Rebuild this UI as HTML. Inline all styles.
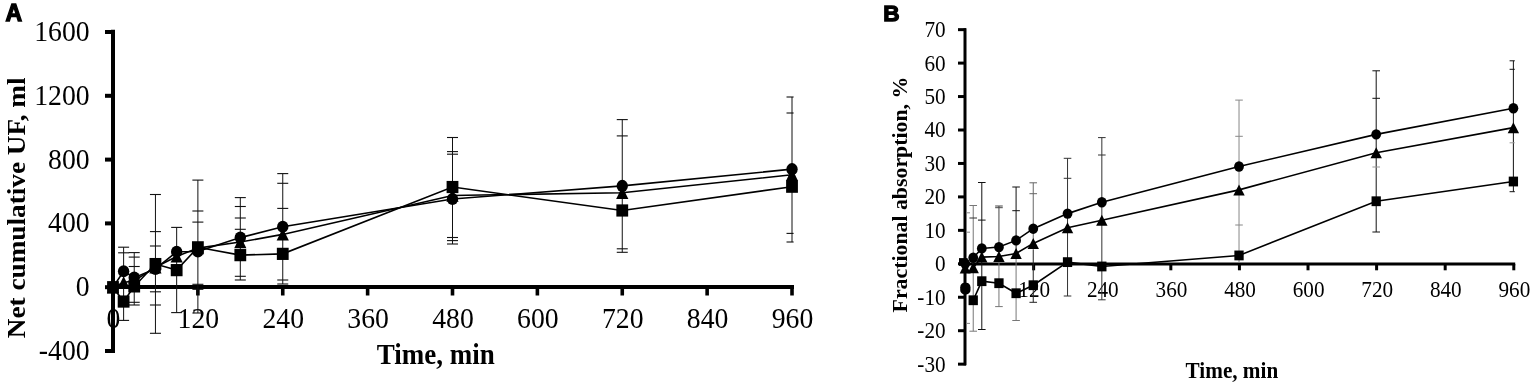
<!DOCTYPE html>
<html><head><meta charset="utf-8"><title>Figure</title>
<style>html,body{margin:0;padding:0;background:#fff;}body{width:1535px;height:387px;overflow:hidden;}svg{display:block;}</style>
</head><body>
<svg width="1535" height="387" viewBox="0 0 1535 387">
<rect width="1535" height="387" fill="#fff"/>
<text transform="translate(89.6,359.9) scale(1,1.06)" font-size="27.7" text-anchor="end" font-family='"Liberation Serif", "Times New Roman", serif'>-400</text>
<text transform="translate(89.6,296.1) scale(1,1.06)" font-size="27.7" text-anchor="end" font-family='"Liberation Serif", "Times New Roman", serif'>0</text>
<text transform="translate(89.6,232.3) scale(1,1.06)" font-size="27.7" text-anchor="end" font-family='"Liberation Serif", "Times New Roman", serif'>400</text>
<text transform="translate(89.6,168.5) scale(1,1.06)" font-size="27.7" text-anchor="end" font-family='"Liberation Serif", "Times New Roman", serif'>800</text>
<text transform="translate(89.6,104.7) scale(1,1.06)" font-size="27.7" text-anchor="end" font-family='"Liberation Serif", "Times New Roman", serif'>1200</text>
<text transform="translate(89.6,40.9) scale(1,1.06)" font-size="27.7" text-anchor="end" font-family='"Liberation Serif", "Times New Roman", serif'>1600</text>
<text transform="translate(113.5,328) scale(1,1.06)" font-size="27.7" text-anchor="middle" font-family='"Liberation Serif", "Times New Roman", serif'>0</text>
<text transform="translate(198.38,328) scale(1,1.06)" font-size="27.7" text-anchor="middle" font-family='"Liberation Serif", "Times New Roman", serif'>120</text>
<text transform="translate(283.25,328) scale(1,1.06)" font-size="27.7" text-anchor="middle" font-family='"Liberation Serif", "Times New Roman", serif'>240</text>
<text transform="translate(368.13,328) scale(1,1.06)" font-size="27.7" text-anchor="middle" font-family='"Liberation Serif", "Times New Roman", serif'>360</text>
<text transform="translate(453,328) scale(1,1.06)" font-size="27.7" text-anchor="middle" font-family='"Liberation Serif", "Times New Roman", serif'>480</text>
<text transform="translate(537.88,328) scale(1,1.06)" font-size="27.7" text-anchor="middle" font-family='"Liberation Serif", "Times New Roman", serif'>600</text>
<text transform="translate(622.76,328) scale(1,1.06)" font-size="27.7" text-anchor="middle" font-family='"Liberation Serif", "Times New Roman", serif'>720</text>
<text transform="translate(707.63,328) scale(1,1.06)" font-size="27.7" text-anchor="middle" font-family='"Liberation Serif", "Times New Roman", serif'>840</text>
<text transform="translate(792.51,328) scale(1,1.06)" font-size="27.7" text-anchor="middle" font-family='"Liberation Serif", "Times New Roman", serif'>960</text>
<text transform="translate(376.8,364.2) scale(1,1.06)" font-size="27" text-anchor="start" font-weight="bold" font-family='"Liberation Serif", "Times New Roman", serif'>Time, min</text>
<text transform="translate(24.5,338.2) scale(1,1.04) rotate(-90)" font-size="26.2" text-anchor="start" font-weight="bold" font-family='"Liberation Serif", "Times New Roman", serif'>Net cumulative UF, ml</text>
<text transform="translate(5.5,21.2) scale(1,1.01)" font-size="23" text-anchor="start" font-weight="bold" font-family='"Liberation Sans", Arial, sans-serif' stroke="#000" stroke-width="1.3">A</text>
<line x1="113" y1="29.7" x2="113" y2="353" stroke="#000" stroke-width="4"/>
<line x1="105" y1="351" x2="115" y2="351" stroke="#000" stroke-width="4"/>
<line x1="105" y1="287.2" x2="115" y2="287.2" stroke="#000" stroke-width="4"/>
<line x1="105" y1="223.4" x2="115" y2="223.4" stroke="#000" stroke-width="4"/>
<line x1="105" y1="159.6" x2="115" y2="159.6" stroke="#000" stroke-width="4"/>
<line x1="105" y1="95.8" x2="115" y2="95.8" stroke="#000" stroke-width="4"/>
<line x1="105" y1="32" x2="115" y2="32" stroke="#000" stroke-width="4"/>
<line x1="111" y1="287" x2="794" y2="287" stroke="#000" stroke-width="4"/>
<line x1="197.88" y1="287" x2="197.88" y2="295.5" stroke="#000" stroke-width="3.6"/>
<line x1="282.75" y1="287" x2="282.75" y2="295.5" stroke="#000" stroke-width="3.6"/>
<line x1="367.63" y1="287" x2="367.63" y2="295.5" stroke="#000" stroke-width="3.6"/>
<line x1="452.5" y1="287" x2="452.5" y2="295.5" stroke="#000" stroke-width="3.6"/>
<line x1="537.38" y1="287" x2="537.38" y2="295.5" stroke="#000" stroke-width="3.6"/>
<line x1="622.26" y1="287" x2="622.26" y2="295.5" stroke="#000" stroke-width="3.6"/>
<line x1="707.13" y1="287" x2="707.13" y2="295.5" stroke="#000" stroke-width="3.6"/>
<line x1="792.01" y1="287" x2="792.01" y2="295.5" stroke="#000" stroke-width="3.6"/>
<line x1="123.61" y1="247.2" x2="123.61" y2="320.4" stroke="#111" stroke-width="1"/>
<line x1="118.11" y1="247.2" x2="129.11" y2="247.2" stroke="#111" stroke-width="1.1"/>
<line x1="118.11" y1="252.8" x2="129.11" y2="252.8" stroke="#111" stroke-width="1.1"/>
<line x1="118.11" y1="320.4" x2="129.11" y2="320.4" stroke="#111" stroke-width="1.1"/>
<line x1="134.22" y1="252.6" x2="134.22" y2="305" stroke="#111" stroke-width="1"/>
<line x1="128.72" y1="252.6" x2="139.72" y2="252.6" stroke="#111" stroke-width="1.1"/>
<line x1="128.72" y1="257.1" x2="139.72" y2="257.1" stroke="#111" stroke-width="1.1"/>
<line x1="128.72" y1="266.5" x2="139.72" y2="266.5" stroke="#111" stroke-width="1.1"/>
<line x1="128.72" y1="302.3" x2="139.72" y2="302.3" stroke="#111" stroke-width="1.1"/>
<line x1="128.72" y1="305" x2="139.72" y2="305" stroke="#111" stroke-width="1.1"/>
<line x1="155.44" y1="194.5" x2="155.44" y2="333.3" stroke="#111" stroke-width="1"/>
<line x1="149.94" y1="194.5" x2="160.94" y2="194.5" stroke="#111" stroke-width="1.1"/>
<line x1="149.94" y1="231.6" x2="160.94" y2="231.6" stroke="#111" stroke-width="1.1"/>
<line x1="149.94" y1="246" x2="160.94" y2="246" stroke="#111" stroke-width="1.1"/>
<line x1="149.94" y1="291.8" x2="160.94" y2="291.8" stroke="#111" stroke-width="1.1"/>
<line x1="149.94" y1="305" x2="160.94" y2="305" stroke="#111" stroke-width="1.1"/>
<line x1="149.94" y1="333.3" x2="160.94" y2="333.3" stroke="#111" stroke-width="1.1"/>
<line x1="176.66" y1="227.4" x2="176.66" y2="312.6" stroke="#111" stroke-width="1"/>
<line x1="171.16" y1="227.4" x2="182.16" y2="227.4" stroke="#111" stroke-width="1.1"/>
<line x1="171.16" y1="312.6" x2="182.16" y2="312.6" stroke="#111" stroke-width="1.1"/>
<line x1="197.88" y1="180.1" x2="197.88" y2="313" stroke="#111" stroke-width="1"/>
<line x1="192.38" y1="180.1" x2="203.38" y2="180.1" stroke="#111" stroke-width="1.1"/>
<line x1="192.38" y1="211" x2="203.38" y2="211" stroke="#111" stroke-width="1.1"/>
<line x1="192.38" y1="222.1" x2="203.38" y2="222.1" stroke="#111" stroke-width="1.1"/>
<line x1="192.38" y1="284.3" x2="203.38" y2="284.3" stroke="#111" stroke-width="1.1"/>
<line x1="192.38" y1="289.3" x2="203.38" y2="289.3" stroke="#111" stroke-width="1.1"/>
<line x1="192.38" y1="313" x2="203.38" y2="313" stroke="#111" stroke-width="1.1"/>
<line x1="240.31" y1="197.6" x2="240.31" y2="280" stroke="#111" stroke-width="1"/>
<line x1="234.81" y1="197.6" x2="245.81" y2="197.6" stroke="#111" stroke-width="1.1"/>
<line x1="234.81" y1="206.5" x2="245.81" y2="206.5" stroke="#111" stroke-width="1.1"/>
<line x1="234.81" y1="218" x2="245.81" y2="218" stroke="#111" stroke-width="1.1"/>
<line x1="234.81" y1="229.3" x2="245.81" y2="229.3" stroke="#111" stroke-width="1.1"/>
<line x1="234.81" y1="276.3" x2="245.81" y2="276.3" stroke="#111" stroke-width="1.1"/>
<line x1="234.81" y1="280" x2="245.81" y2="280" stroke="#111" stroke-width="1.1"/>
<line x1="282.75" y1="173.6" x2="282.75" y2="284" stroke="#111" stroke-width="1"/>
<line x1="277.25" y1="173.6" x2="288.25" y2="173.6" stroke="#111" stroke-width="1.1"/>
<line x1="277.25" y1="183.3" x2="288.25" y2="183.3" stroke="#111" stroke-width="1.1"/>
<line x1="277.25" y1="208.4" x2="288.25" y2="208.4" stroke="#111" stroke-width="1.1"/>
<line x1="277.25" y1="280" x2="288.25" y2="280" stroke="#111" stroke-width="1.1"/>
<line x1="277.25" y1="284" x2="288.25" y2="284" stroke="#111" stroke-width="1.1"/>
<line x1="452.5" y1="137.5" x2="452.5" y2="244" stroke="#111" stroke-width="1"/>
<line x1="447" y1="137.5" x2="458" y2="137.5" stroke="#111" stroke-width="1.1"/>
<line x1="447" y1="151.6" x2="458" y2="151.6" stroke="#111" stroke-width="1.1"/>
<line x1="447" y1="154.2" x2="458" y2="154.2" stroke="#111" stroke-width="1.1"/>
<line x1="447" y1="237.5" x2="458" y2="237.5" stroke="#111" stroke-width="1.1"/>
<line x1="447" y1="240.6" x2="458" y2="240.6" stroke="#111" stroke-width="1.1"/>
<line x1="447" y1="244" x2="458" y2="244" stroke="#111" stroke-width="1.1"/>
<line x1="622.26" y1="119.6" x2="622.26" y2="252.3" stroke="#111" stroke-width="1"/>
<line x1="616.76" y1="119.6" x2="627.76" y2="119.6" stroke="#111" stroke-width="1.1"/>
<line x1="616.76" y1="135.9" x2="627.76" y2="135.9" stroke="#111" stroke-width="1.1"/>
<line x1="616.76" y1="248.8" x2="627.76" y2="248.8" stroke="#111" stroke-width="1.1"/>
<line x1="616.76" y1="252.3" x2="627.76" y2="252.3" stroke="#111" stroke-width="1.1"/>
<line x1="792.01" y1="97" x2="792.01" y2="242" stroke="#111" stroke-width="1"/>
<line x1="786.51" y1="97" x2="793.6" y2="97" stroke="#111" stroke-width="1.1"/>
<line x1="786.51" y1="113" x2="793.6" y2="113" stroke="#111" stroke-width="1.1"/>
<line x1="786.51" y1="233.4" x2="793.6" y2="233.4" stroke="#111" stroke-width="1.1"/>
<line x1="786.51" y1="242" x2="793.6" y2="242" stroke="#111" stroke-width="1.1"/>
<polyline points="113,287.2 123.61,271.25 134.22,277.63 155.44,268.86 176.66,251.79 197.88,251.47 240.31,237.6 282.75,226.75 452.5,199 622.26,185.92 792.01,169.17" fill="none" stroke="#000" stroke-width="1.6"/>
<polyline points="113,287.2 123.61,282.41 134.22,280.82 155.44,267.26 176.66,256.42 197.88,248.12 240.31,242.06 282.75,234.41 452.5,195.49 622.26,192.78 792.01,174.75" fill="none" stroke="#000" stroke-width="1.6"/>
<polyline points="113,287.2 123.61,301.56 134.22,286.4 155.44,264.07 176.66,270.13 197.88,247.32 240.31,255.14 282.75,253.86 452.5,187.03 622.26,210.48 792.01,186.71" fill="none" stroke="#000" stroke-width="1.6"/>
<polygon points="113,281 106.9,293.4 119.1,293.4"/>
<polygon points="123.61,276.21 117.51,288.61 129.71,288.61"/>
<polygon points="134.22,274.62 128.12,287.02 140.32,287.02"/>
<polygon points="155.44,261.06 149.34,273.46 161.54,273.46"/>
<polygon points="176.66,250.22 170.56,262.62 182.76,262.62"/>
<polygon points="197.88,241.92 191.78,254.32 203.98,254.32"/>
<polygon points="240.31,235.86 234.21,248.26 246.41,248.26"/>
<polygon points="282.75,228.21 276.65,240.61 288.85,240.61"/>
<polygon points="452.5,189.29 446.4,201.69 458.6,201.69"/>
<polygon points="622.26,186.58 616.16,198.98 628.36,198.98"/>
<polygon points="792.01,168.55 785.91,180.95 798.11,180.95"/>
<ellipse cx="113" cy="287.2" rx="5.7" ry="6.05"/>
<ellipse cx="123.61" cy="271.25" rx="5.7" ry="6.05"/>
<ellipse cx="134.22" cy="277.63" rx="5.7" ry="6.05"/>
<ellipse cx="155.44" cy="268.86" rx="5.7" ry="6.05"/>
<ellipse cx="176.66" cy="251.79" rx="5.7" ry="6.05"/>
<ellipse cx="197.88" cy="251.47" rx="5.7" ry="6.05"/>
<ellipse cx="240.31" cy="237.6" rx="5.7" ry="6.05"/>
<ellipse cx="282.75" cy="226.75" rx="5.7" ry="6.05"/>
<ellipse cx="452.5" cy="199" rx="5.7" ry="6.05"/>
<ellipse cx="622.26" cy="185.92" rx="5.7" ry="6.05"/>
<ellipse cx="792.01" cy="169.17" rx="5.7" ry="6.05"/>
<rect x="107.1" y="281.1" width="11.8" height="12.2"/>
<rect x="117.71" y="295.45" width="11.8" height="12.2"/>
<rect x="128.32" y="280.3" width="11.8" height="12.2"/>
<rect x="149.54" y="257.97" width="11.8" height="12.2"/>
<rect x="170.76" y="264.03" width="11.8" height="12.2"/>
<rect x="191.98" y="241.22" width="11.8" height="12.2"/>
<rect x="234.41" y="249.04" width="11.8" height="12.2"/>
<rect x="276.85" y="247.76" width="11.8" height="12.2"/>
<rect x="446.6" y="180.93" width="11.8" height="12.2"/>
<rect x="616.36" y="204.38" width="11.8" height="12.2"/>
<rect x="786.11" y="180.61" width="11.8" height="12.2"/>
<text transform="translate(945.6,371.55) scale(1,1.06)" font-size="21.2" text-anchor="end" font-family='"Liberation Serif", "Times New Roman", serif'>-30</text>
<text transform="translate(945.6,338.1) scale(1,1.06)" font-size="21.2" text-anchor="end" font-family='"Liberation Serif", "Times New Roman", serif'>-20</text>
<text transform="translate(945.6,304.65) scale(1,1.06)" font-size="21.2" text-anchor="end" font-family='"Liberation Serif", "Times New Roman", serif'>-10</text>
<text transform="translate(945.6,271.2) scale(1,1.06)" font-size="21.2" text-anchor="end" font-family='"Liberation Serif", "Times New Roman", serif'>0</text>
<text transform="translate(945.6,237.75) scale(1,1.06)" font-size="21.2" text-anchor="end" font-family='"Liberation Serif", "Times New Roman", serif'>10</text>
<text transform="translate(945.6,204.3) scale(1,1.06)" font-size="21.2" text-anchor="end" font-family='"Liberation Serif", "Times New Roman", serif'>20</text>
<text transform="translate(945.6,170.85) scale(1,1.06)" font-size="21.2" text-anchor="end" font-family='"Liberation Serif", "Times New Roman", serif'>30</text>
<text transform="translate(945.6,137.4) scale(1,1.06)" font-size="21.2" text-anchor="end" font-family='"Liberation Serif", "Times New Roman", serif'>40</text>
<text transform="translate(945.6,103.95) scale(1,1.06)" font-size="21.2" text-anchor="end" font-family='"Liberation Serif", "Times New Roman", serif'>50</text>
<text transform="translate(945.6,70.5) scale(1,1.06)" font-size="21.2" text-anchor="end" font-family='"Liberation Serif", "Times New Roman", serif'>60</text>
<text transform="translate(945.6,37.05) scale(1,1.06)" font-size="21.2" text-anchor="end" font-family='"Liberation Serif", "Times New Roman", serif'>70</text>
<text transform="translate(1034.24,296.5) scale(1,1.06)" font-size="21.2" text-anchor="middle" font-family='"Liberation Serif", "Times New Roman", serif'>120</text>
<text transform="translate(1102.83,296.5) scale(1,1.06)" font-size="21.2" text-anchor="middle" font-family='"Liberation Serif", "Times New Roman", serif'>240</text>
<text transform="translate(1171.43,296.5) scale(1,1.06)" font-size="21.2" text-anchor="middle" font-family='"Liberation Serif", "Times New Roman", serif'>360</text>
<text transform="translate(1240.02,296.5) scale(1,1.06)" font-size="21.2" text-anchor="middle" font-family='"Liberation Serif", "Times New Roman", serif'>480</text>
<text transform="translate(1308.61,296.5) scale(1,1.06)" font-size="21.2" text-anchor="middle" font-family='"Liberation Serif", "Times New Roman", serif'>600</text>
<text transform="translate(1377.2,296.5) scale(1,1.06)" font-size="21.2" text-anchor="middle" font-family='"Liberation Serif", "Times New Roman", serif'>720</text>
<text transform="translate(1445.79,296.5) scale(1,1.06)" font-size="21.2" text-anchor="middle" font-family='"Liberation Serif", "Times New Roman", serif'>840</text>
<text transform="translate(1514.39,296.5) scale(1,1.06)" font-size="21.2" text-anchor="middle" font-family='"Liberation Serif", "Times New Roman", serif'>960</text>
<text transform="translate(1185.6,378.2) scale(1,1.06)" font-size="21.2" text-anchor="start" font-weight="bold" font-family='"Liberation Serif", "Times New Roman", serif'>Time, min</text>
<text transform="translate(906.7,312.4) scale(1,1.07) rotate(-90)" font-size="20.4" text-anchor="start" font-weight="bold" font-family='"Liberation Serif", "Times New Roman", serif'>Fractional absorption, %</text>
<text transform="translate(883.2,21.2) scale(1,1)" font-size="22.6" text-anchor="start" font-weight="bold" font-family='"Liberation Sans", Arial, sans-serif' stroke="#000" stroke-width="1.3">B</text>
<line x1="965" y1="28.3" x2="965" y2="365.2" stroke="#000" stroke-width="3"/>
<line x1="958" y1="364.15" x2="966" y2="364.15" stroke="#000" stroke-width="3"/>
<line x1="958" y1="330.7" x2="966" y2="330.7" stroke="#000" stroke-width="3"/>
<line x1="958" y1="297.25" x2="966" y2="297.25" stroke="#000" stroke-width="3"/>
<line x1="958" y1="263.8" x2="966" y2="263.8" stroke="#000" stroke-width="3"/>
<line x1="958" y1="230.35" x2="966" y2="230.35" stroke="#000" stroke-width="3"/>
<line x1="958" y1="196.9" x2="966" y2="196.9" stroke="#000" stroke-width="3"/>
<line x1="958" y1="163.45" x2="966" y2="163.45" stroke="#000" stroke-width="3"/>
<line x1="958" y1="130" x2="966" y2="130" stroke="#000" stroke-width="3"/>
<line x1="958" y1="96.55" x2="966" y2="96.55" stroke="#000" stroke-width="3"/>
<line x1="958" y1="63.1" x2="966" y2="63.1" stroke="#000" stroke-width="3"/>
<line x1="958" y1="29.65" x2="966" y2="29.65" stroke="#000" stroke-width="3"/>
<line x1="963.5" y1="264" x2="1515.2" y2="264" stroke="#000" stroke-width="3"/>
<line x1="1033.64" y1="264" x2="1033.64" y2="270.3" stroke="#000" stroke-width="3"/>
<line x1="1102.23" y1="264" x2="1102.23" y2="270.3" stroke="#000" stroke-width="3"/>
<line x1="1170.83" y1="264" x2="1170.83" y2="270.3" stroke="#000" stroke-width="3"/>
<line x1="1239.42" y1="264" x2="1239.42" y2="270.3" stroke="#000" stroke-width="3"/>
<line x1="1308.01" y1="264" x2="1308.01" y2="270.3" stroke="#000" stroke-width="3"/>
<line x1="1376.6" y1="264" x2="1376.6" y2="270.3" stroke="#000" stroke-width="3"/>
<line x1="1445.19" y1="264" x2="1445.19" y2="270.3" stroke="#000" stroke-width="3"/>
<line x1="1513.79" y1="264" x2="1513.79" y2="270.3" stroke="#000" stroke-width="3"/>
<line x1="973.22" y1="205.3" x2="973.22" y2="331.2" stroke="#777" stroke-width="1"/>
<line x1="969.42" y1="205.5" x2="977.02" y2="205.5" stroke="#777" stroke-width="1"/>
<line x1="969.42" y1="331.2" x2="977.02" y2="331.2" stroke="#777" stroke-width="1"/>
<line x1="969.42" y1="218" x2="977.02" y2="218" stroke="#333" stroke-width="1"/>
<line x1="981.8" y1="182.5" x2="981.8" y2="329.5" stroke="#111" stroke-width="1"/>
<line x1="978" y1="182.5" x2="985.6" y2="182.5" stroke="#111" stroke-width="1"/>
<line x1="978" y1="220.1" x2="985.6" y2="220.1" stroke="#111" stroke-width="1"/>
<line x1="978" y1="329.5" x2="985.6" y2="329.5" stroke="#111" stroke-width="1"/>
<line x1="998.95" y1="206" x2="998.95" y2="255" stroke="#444" stroke-width="1"/>
<line x1="995.15" y1="206" x2="1002.75" y2="206" stroke="#444" stroke-width="1"/>
<line x1="995.15" y1="207.7" x2="1002.75" y2="207.7" stroke="#444" stroke-width="1"/>
<line x1="998.95" y1="255" x2="998.95" y2="306.6" stroke="#777" stroke-width="1"/>
<line x1="995.15" y1="306.6" x2="1002.75" y2="306.6" stroke="#777" stroke-width="1"/>
<line x1="1016.09" y1="187" x2="1016.09" y2="255" stroke="#111" stroke-width="1"/>
<line x1="1012.29" y1="187" x2="1019.89" y2="187" stroke="#111" stroke-width="1"/>
<line x1="1012.29" y1="210.7" x2="1019.89" y2="210.7" stroke="#111" stroke-width="1"/>
<line x1="1016.09" y1="255" x2="1016.09" y2="320.5" stroke="#777" stroke-width="1"/>
<line x1="1012.29" y1="320.5" x2="1019.89" y2="320.5" stroke="#777" stroke-width="1"/>
<line x1="1033.24" y1="182.8" x2="1033.24" y2="250" stroke="#666" stroke-width="1"/>
<line x1="1029.44" y1="182.8" x2="1037.04" y2="182.8" stroke="#666" stroke-width="1"/>
<line x1="1029.44" y1="193.7" x2="1037.04" y2="193.7" stroke="#666" stroke-width="1"/>
<line x1="1033.24" y1="250" x2="1033.24" y2="302.3" stroke="#222" stroke-width="1"/>
<line x1="1029.44" y1="302.3" x2="1037.04" y2="302.3" stroke="#222" stroke-width="1"/>
<line x1="1067.54" y1="158.3" x2="1067.54" y2="296" stroke="#333" stroke-width="1"/>
<line x1="1063.74" y1="158.3" x2="1071.34" y2="158.3" stroke="#333" stroke-width="1"/>
<line x1="1063.74" y1="178.3" x2="1071.34" y2="178.3" stroke="#333" stroke-width="1"/>
<line x1="1063.74" y1="296" x2="1071.34" y2="296" stroke="#333" stroke-width="1"/>
<line x1="1101.83" y1="137.6" x2="1101.83" y2="299.8" stroke="#333" stroke-width="1"/>
<line x1="1098.03" y1="137.6" x2="1105.63" y2="137.6" stroke="#333" stroke-width="1"/>
<line x1="1098.03" y1="155" x2="1105.63" y2="155" stroke="#333" stroke-width="1"/>
<line x1="1098.03" y1="299.8" x2="1105.63" y2="299.8" stroke="#333" stroke-width="1"/>
<line x1="1239.02" y1="100.1" x2="1239.02" y2="263" stroke="#888" stroke-width="1"/>
<line x1="1235.22" y1="100.1" x2="1242.82" y2="100.1" stroke="#888" stroke-width="1"/>
<line x1="1235.22" y1="136.3" x2="1242.82" y2="136.3" stroke="#888" stroke-width="1"/>
<line x1="1235.22" y1="225" x2="1242.82" y2="225" stroke="#888" stroke-width="1"/>
<line x1="1376.2" y1="70.8" x2="1376.2" y2="232" stroke="#111" stroke-width="1"/>
<line x1="1372.4" y1="70.8" x2="1380" y2="70.8" stroke="#111" stroke-width="1"/>
<line x1="1372.4" y1="98.3" x2="1380" y2="98.3" stroke="#111" stroke-width="1"/>
<line x1="1372.4" y1="232" x2="1380" y2="232" stroke="#111" stroke-width="1"/>
<line x1="1372.4" y1="167" x2="1380" y2="167" stroke="#999" stroke-width="1"/>
<line x1="1513.39" y1="60.8" x2="1513.39" y2="191.7" stroke="#111" stroke-width="1"/>
<line x1="1509.59" y1="60.8" x2="1514.8" y2="60.8" stroke="#111" stroke-width="1"/>
<line x1="1509.59" y1="69.3" x2="1514.8" y2="69.3" stroke="#111" stroke-width="1"/>
<line x1="1509.59" y1="191.7" x2="1514.8" y2="191.7" stroke="#111" stroke-width="1"/>
<line x1="1509.59" y1="142.8" x2="1514.8" y2="142.8" stroke="#999" stroke-width="1"/>
<line x1="966.5" y1="212.8" x2="970" y2="212.8" stroke="#888" stroke-width="1"/>
<line x1="966.5" y1="232.2" x2="970" y2="232.2" stroke="#888" stroke-width="1"/>
<line x1="966.5" y1="323.4" x2="970" y2="323.4" stroke="#888" stroke-width="1"/>
<polyline points="973.22,257.78 981.8,248.41 998.95,247.08 1016.09,240.39 1033.24,228.68 1067.54,213.62 1101.83,202.25 1239.02,166.46 1376.2,134.35 1513.39,108.26" fill="none" stroke="#000" stroke-width="1.6"/>
<polyline points="973.22,267.81 981.8,257.11 998.95,256.44 1016.09,253.43 1033.24,243.4 1067.54,227.67 1101.83,220.31 1239.02,189.88 1376.2,152.75 1513.39,127.66" fill="none" stroke="#000" stroke-width="1.6"/>
<polyline points="973.22,300.26 981.8,281.19 998.95,283.2 1016.09,293.24 1033.24,285.21 1067.54,262.13 1101.83,266.48 1239.02,255.44 1376.2,201.25 1513.39,181.51" fill="none" stroke="#000" stroke-width="1.6"/>
<polygon points="973.22,262.31 967.52,273.31 978.92,273.31"/>
<polygon points="981.8,251.61 976.1,262.61 987.5,262.61"/>
<polygon points="998.95,250.94 993.25,261.94 1004.65,261.94"/>
<polygon points="1016.09,247.93 1010.39,258.93 1021.79,258.93"/>
<polygon points="1033.24,237.9 1027.54,248.9 1038.94,248.9"/>
<polygon points="1067.54,222.17 1061.84,233.17 1073.24,233.17"/>
<polygon points="1101.83,214.81 1096.13,225.81 1107.53,225.81"/>
<polygon points="1239.02,184.38 1233.32,195.38 1244.72,195.38"/>
<polygon points="1376.2,147.25 1370.5,158.25 1381.9,158.25"/>
<polygon points="1513.39,122.16 1507.69,133.16 1519.09,133.16"/>
<ellipse cx="973.22" cy="257.78" rx="4.9" ry="5.2"/>
<ellipse cx="981.8" cy="248.41" rx="4.9" ry="5.2"/>
<ellipse cx="998.95" cy="247.08" rx="4.9" ry="5.2"/>
<ellipse cx="1016.09" cy="240.39" rx="4.9" ry="5.2"/>
<ellipse cx="1033.24" cy="228.68" rx="4.9" ry="5.2"/>
<ellipse cx="1067.54" cy="213.62" rx="4.9" ry="5.2"/>
<ellipse cx="1101.83" cy="202.25" rx="4.9" ry="5.2"/>
<ellipse cx="1239.02" cy="166.46" rx="4.9" ry="5.2"/>
<ellipse cx="1376.2" cy="134.35" rx="4.9" ry="5.2"/>
<ellipse cx="1513.39" cy="108.26" rx="4.9" ry="5.2"/>
<rect x="968.57" y="295.36" width="9.3" height="9.8"/>
<rect x="977.15" y="276.29" width="9.3" height="9.8"/>
<rect x="994.3" y="278.3" width="9.3" height="9.8"/>
<rect x="1011.44" y="288.34" width="9.3" height="9.8"/>
<rect x="1028.59" y="280.31" width="9.3" height="9.8"/>
<rect x="1062.89" y="257.23" width="9.3" height="9.8"/>
<rect x="1097.18" y="261.58" width="9.3" height="9.8"/>
<rect x="1234.37" y="250.54" width="9.3" height="9.8"/>
<rect x="1371.55" y="196.35" width="9.3" height="9.8"/>
<rect x="1508.74" y="176.61" width="9.3" height="9.8"/>
<polygon points="965.2,262.6 959.7,273.6 970.7,273.6"/>
<ellipse cx="965.2" cy="263.6" rx="5" ry="5.2"/>
<rect x="959" y="258.1" width="8.6" height="7.8"/>
<rect x="960.2" y="282.8" width="10.3" height="11.6" rx="4.2" ry="4.5"/>
</svg>
</body></html>
